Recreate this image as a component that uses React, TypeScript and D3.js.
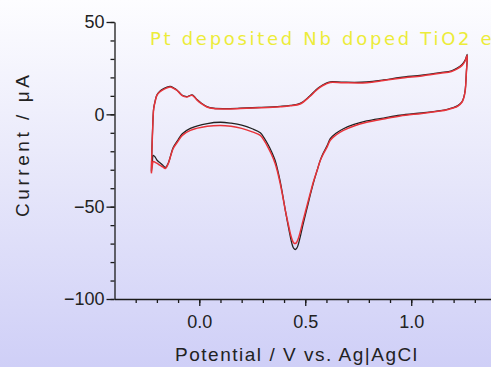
import React, { useEffect, useRef } from 'react';
import * as d3 from 'd3';

// forward (anodic) sweep
const potentialForward = [
  -0.226, -0.224, -0.22, -0.215, -0.208, -0.2, -0.188, -0.176, -0.155, -0.137, -0.12, -0.105, -0.093, -0.082, -0.07,
  -0.058, -0.045, -0.034, -0.02, -0.011, 0.01, 0.036, 0.068, 0.12, 0.193, 0.28, 0.382, 0.43, 0.476, 0.52, 0.55, 0.571,
  0.595, 0.618, 0.68, 0.79, 0.87, 0.948, 1.05, 1.137, 1.19, 1.217, 1.24, 1.255, 1.264,
];
// reverse (cathodic) sweep
const potentialReverse = [
  1.26, 1.255, 1.248, 1.24, 1.22, 1.198, 1.17, 1.137, 1.05, 0.948, 0.87, 0.79, 0.73, 0.68, 0.645, 0.618, 0.604, 0.585,
  0.571, 0.557, 0.54, 0.524, 0.507, 0.49, 0.478, 0.467, 0.46, 0.453, 0.445, 0.437, 0.43, 0.418, 0.406, 0.394, 0.382,
  0.37, 0.358, 0.34, 0.325, 0.305, 0.288, 0.25, 0.2, 0.15, 0.1, 0.038, -0.042, -0.08, -0.1, -0.123, -0.135, -0.146,
  -0.16, -0.172, -0.184, -0.198, -0.208, -0.217, -0.222, -0.226,
];

const blackForward = [
  -31, -21, -7.5, 3.3, 7.3, 10.5, 12.3, 13.4, 14.6, 15.1, 14.2, 13.1, 11.7, 10.5, 9.8, 9.6, 10.2, 10.5, 9.2, 8, 6, 4.2,
  3.3, 3.1, 3.3, 3.7, 4.3, 4.8, 5.9, 9.8, 13.2, 15.1, 16.7, 17.6, 17.4, 17.5, 18.6, 20, 21.2, 22.6, 23.6, 25, 27, 29.5,
  32.5,
];
const blackReverse = [
  22.5, 13.5, 9.2, 6.9, 4.7, 3.6, 2.7, 2.0, 0.8, -0.5, -2.0, -3.6, -5.5, -7.8, -10.3, -13.2, -16.8, -21, -24.8, -30,
  -36.5, -43.5, -51.5, -59.5, -65.5, -70.5, -72.5, -73.2, -72.5, -70, -66.5, -59.5, -52, -44, -36.5, -30.2, -25, -20,
  -16.5, -12.6, -10, -7.8, -5.8, -4.8, -4.3, -5, -7.6, -10.5, -13.8, -18, -22.3, -26.4, -28.8, -27.6, -26.4, -25,
  -23.2, -22.2, -26.5, -31,
];

const redForward = [
  -32, -22, -8, 3.1, 7, 10.3, 12, 13, 14.2, 14.8, 14, 13, 11.5, 10.3, 9.6, 9.4, 10, 10.3, 9, 7.8, 5.8, 4, 3.1, 2.9,
  3.1, 3.5, 4.1, 4.6, 5.6, 9.5, 12.8, 14.7, 16.3, 17.3, 17.1, 17.1, 18.3, 19.6, 20.8, 22.2, 23.2, 24.6, 26.5, 29, 32,
];
const redReverse = [
  22, 13, 9, 6.7, 4.5, 3.4, 2.5, 1.8, 0.5, -0.9, -2.5, -4.3, -6.3, -8.7, -11.2, -14, -17.5, -21.5, -25, -30, -36,
  -42.6, -50, -57.5, -63, -67.4, -69.2, -70, -69.5, -67.5, -64.7, -58.5, -52, -44.5, -37.5, -31.5, -26.6, -21.5, -18,
  -14, -11.4, -9.5, -7.6, -6.5, -6, -6.5, -8.7, -11.4, -14.5, -18.5, -22.5, -26.6, -29.3, -28.5, -27.7, -26.6, -26,
  -25.5, -28, -32,
];

const xMajorTicks = [0, 0.5, 1.0];
const yMajorTicks = [-100, -50, 0, 50];
const titleText = 'Pt deposited Nb doped TiO2 electrode';
const xLabel = 'Potential / V vs. Ag|AgCl';
const yLabel = 'Current / μA';

const App = () => {
  const svgRef = useRef<SVGSVGElement>(null);

  useEffect(() => {
    const W = 491;
    const H = 367;
    const svg = d3.select(svgRef.current).attr('width', W).attr('height', H);
    svg.selectAll('*').remove();

    const grad = svg.append('defs').append('linearGradient')
      .attr('id', 'bg').attr('x1', 0).attr('y1', 0).attr('x2', 0).attr('y2', 1);
    grad.append('stop').attr('offset', '0%').attr('stop-color', '#fdfdff');
    grad.append('stop').attr('offset', '50%').attr('stop-color', '#e6e6fa');
    grad.append('stop').attr('offset', '100%').attr('stop-color', '#cfcff7');
    svg.append('rect').attr('width', W).attr('height', H).attr('fill', 'url(#bg)');

    const x = d3.scaleLinear().domain([-0.4, 1.4]).range([114.5, 496]);
    const y = d3.scaleLinear().domain([-100, 50]).range([299, 22]);

    const font = '"Liberation Sans", Arial, sans-serif';
    const axisColor = '#1a1a1a';

    // title (runs past the right edge, as in the original figure)
    svg.append('text')
      .attr('x', 150).attr('y', 45)
      .attr('font-family', '"DejaVu Sans", sans-serif')
      .attr('font-size', 18)
      .attr('letter-spacing', 2.7)
      .attr('fill', '#ecec3a')
      .text(titleText);

    // curves
    const line = d3.line<[number, number]>()
      .x(d => x(d[0]))
      .y(d => y(d[1]))
      .curve(d3.curveCatmullRom.alpha(0.5));

    const loop = (fwd: number[], rev: number[]) => [
      ...potentialForward.map((e, i) => [e, fwd[i]] as [number, number]),
      ...potentialReverse.map((e, i) => [e, rev[i]] as [number, number]),
    ];

    svg.append('path')
      .attr('d', line(loop(blackForward, blackReverse)))
      .attr('fill', 'none')
      .attr('stroke', '#222')
      .attr('stroke-width', 1.3);

    svg.append('path')
      .attr('d', line(loop(redForward, redReverse)))
      .attr('fill', 'none')
      .attr('stroke', '#e8333a')
      .attr('stroke-width', 1.5);

    // y axis
    const gy = svg.append('g').attr('transform', `translate(${x(-0.4)},0)`);
    gy.call(d3.axisLeft(y).tickValues(d3.range(-100, 51, 10)).tickSize(4).tickFormat(() => ''));
    gy.call(g => g.select('.domain').remove());
    const gyMajor = svg.append('g').attr('transform', `translate(${x(-0.4)},0)`);
    gyMajor.call(d3.axisLeft(y).tickValues(yMajorTicks).tickSize(8).tickSizeOuter(0).tickPadding(2));

    // x axis
    const gx = svg.append('g').attr('transform', `translate(0,${y(-100)})`);
    gx.call(d3.axisBottom(x).tickValues(d3.range(-3, 15).map(v => v / 10)).tickSize(4).tickFormat(() => ''));
    gx.call(g => g.select('.domain').remove());
    const gxMajor = svg.append('g').attr('transform', `translate(0,${y(-100)})`);
    gxMajor.call(d3.axisBottom(x).tickValues(xMajorTicks).tickSize(7).tickSizeOuter(0).tickPadding(9)
      .tickFormat(d3.format('.1f')));

    svg.selectAll('.domain, .tick line').attr('stroke', axisColor).attr('stroke-width', 1.3);
    svg.selectAll('.tick text').attr('font-family', font).attr('font-size', 18).attr('fill', '#222');

    // axis titles
    svg.append('text')
      .attr('x', 296).attr('y', 361)
      .attr('text-anchor', 'middle')
      .attr('font-family', font).attr('font-size', 19).attr('fill', '#222')
      .attr('textLength', 242).attr('lengthAdjust', 'spacing')
      .text(xLabel);

    svg.append('text')
      .attr('transform', 'translate(29,146) rotate(-90)')
      .attr('text-anchor', 'middle')
      .attr('font-family', font).attr('font-size', 19).attr('fill', '#222')
      .attr('textLength', 142).attr('lengthAdjust', 'spacing')
      .text(yLabel);
  }, []);

  return (
    <svg ref={svgRef} style={{ position: 'absolute', left: 0, top: 0, display: 'block' }}></svg>
  );
};

export default App;
